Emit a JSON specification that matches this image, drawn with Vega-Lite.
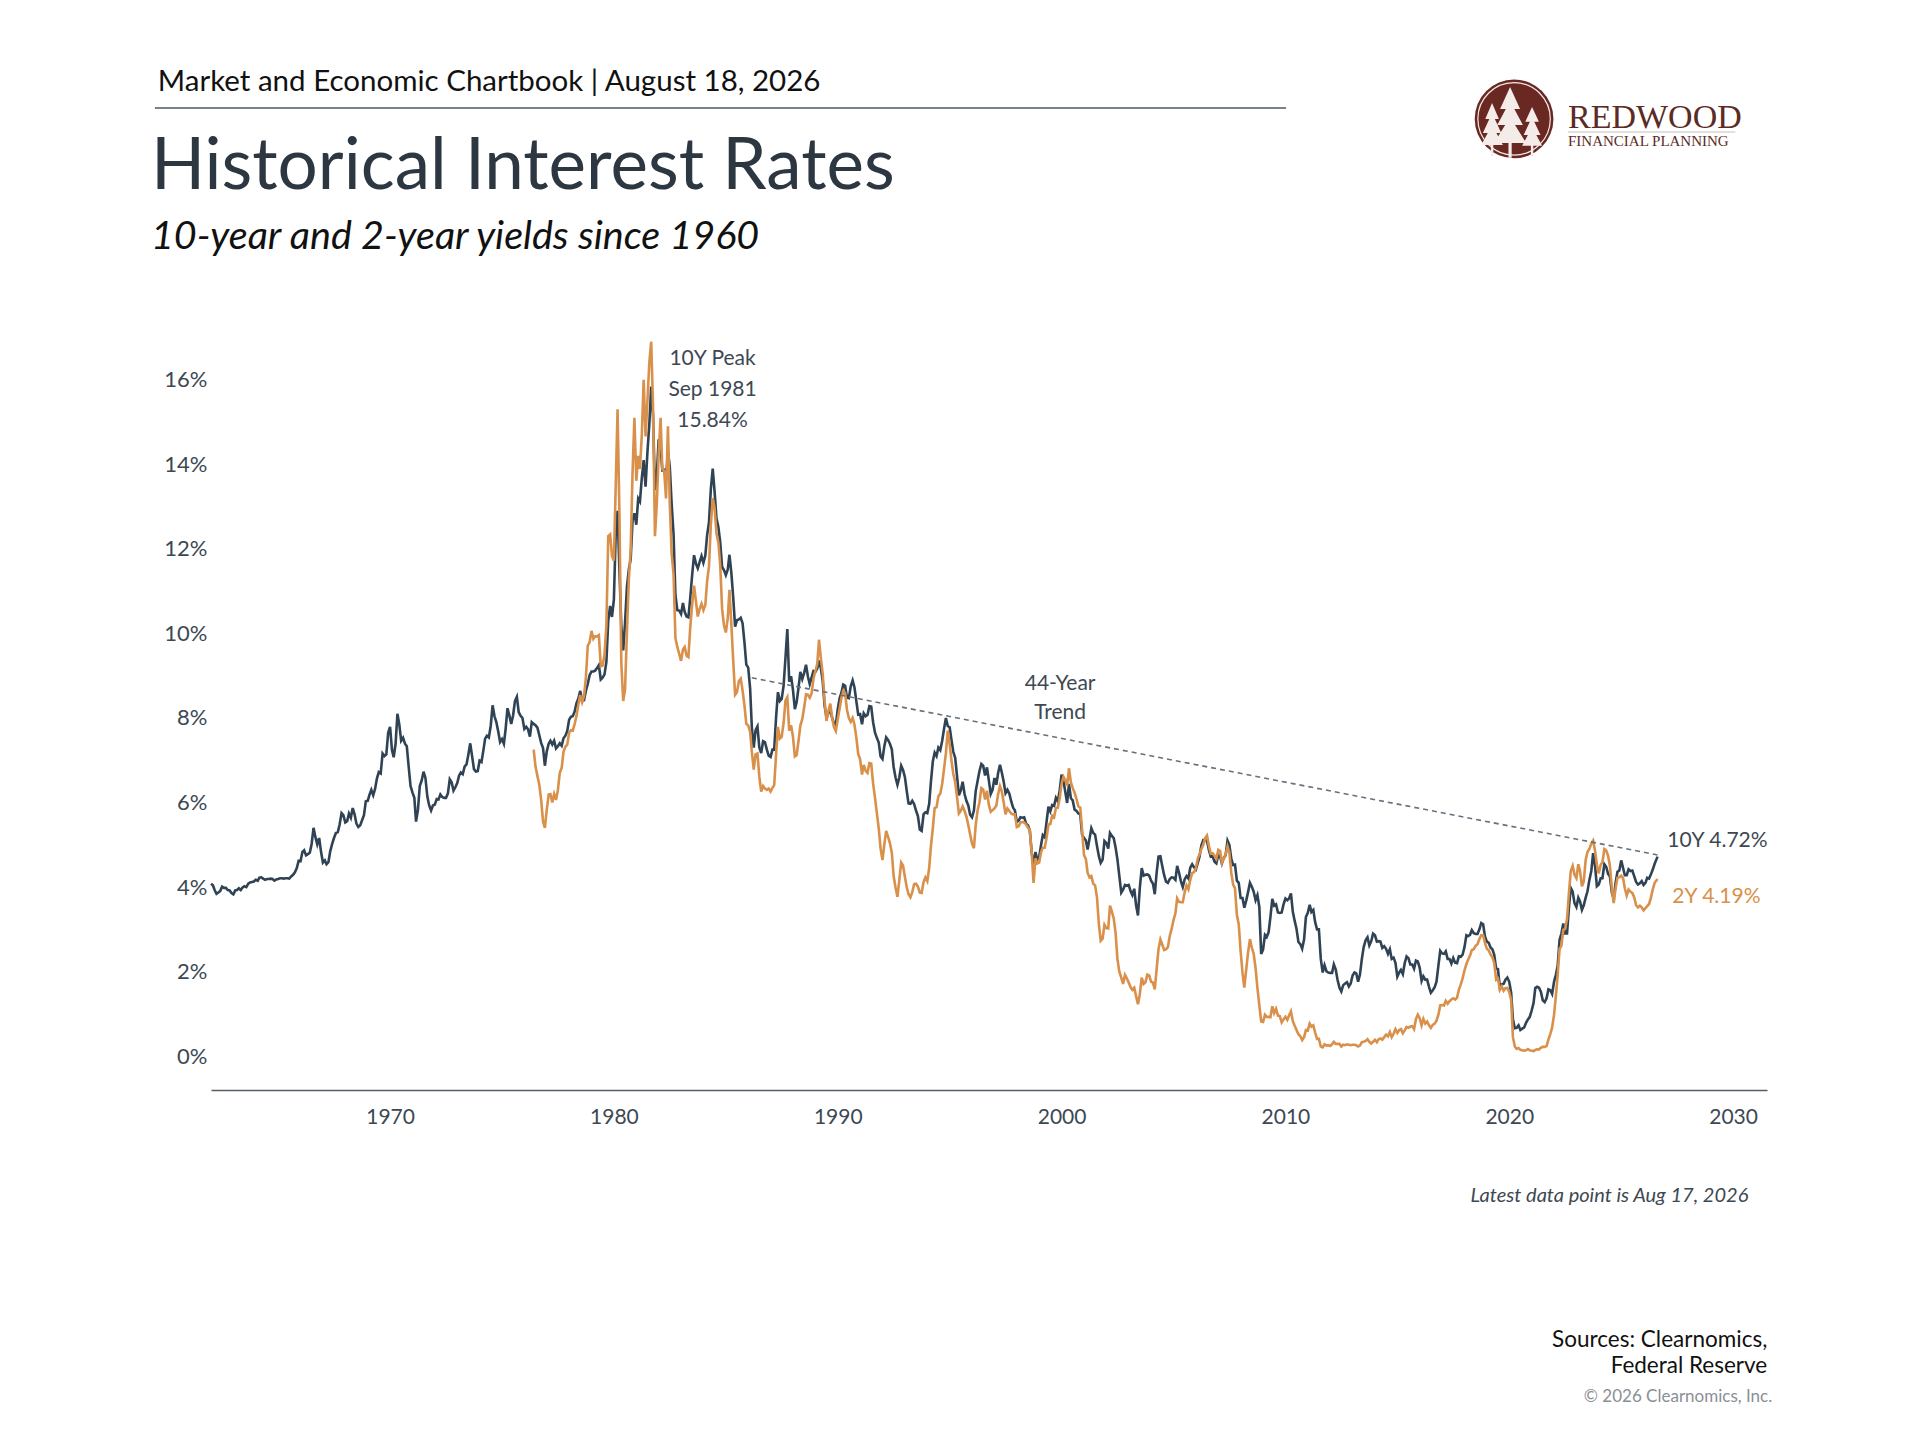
{
  "$schema": "https://vega.github.io/schema/vega-lite/v6.json",
  "width": 1556,
  "height": 761,
  "autosize": {"type": "none"},
  "padding": {"left": 211, "top": 329, "right": 153, "bottom": 350},
  "background": "white",
  "config": {"view": {"stroke": null}, "font": "Lato"},
  "data": {
    "values": [
{"date":"1962-01","y10":4.08},{"date":"1962-02","y10":4.04},{"date":"1962-03","y10":3.93},{"date":"1962-04","y10":3.84},{"date":"1962-05","y10":3.87},{"date":"1962-06","y10":3.91},{"date":"1962-07","y10":4.01},{"date":"1962-08","y10":3.98},{"date":"1962-09","y10":3.98},{"date":"1962-10","y10":3.93},{"date":"1962-11","y10":3.92},{"date":"1962-12","y10":3.86},
{"date":"1963-01","y10":3.83},{"date":"1963-02","y10":3.92},{"date":"1963-03","y10":3.93},{"date":"1963-04","y10":3.97},{"date":"1963-05","y10":3.93},{"date":"1963-06","y10":3.99},{"date":"1963-07","y10":4.02},{"date":"1963-08","y10":4.00},{"date":"1963-09","y10":4.08},{"date":"1963-10","y10":4.11},{"date":"1963-11","y10":4.12},{"date":"1963-12","y10":4.13},
{"date":"1964-01","y10":4.17},{"date":"1964-02","y10":4.15},{"date":"1964-03","y10":4.22},{"date":"1964-04","y10":4.23},{"date":"1964-05","y10":4.20},{"date":"1964-06","y10":4.17},{"date":"1964-07","y10":4.19},{"date":"1964-08","y10":4.19},{"date":"1964-09","y10":4.20},{"date":"1964-10","y10":4.19},{"date":"1964-11","y10":4.15},{"date":"1964-12","y10":4.18},
{"date":"1965-01","y10":4.19},{"date":"1965-02","y10":4.21},{"date":"1965-03","y10":4.21},{"date":"1965-04","y10":4.20},{"date":"1965-05","y10":4.21},{"date":"1965-06","y10":4.21},{"date":"1965-07","y10":4.20},{"date":"1965-08","y10":4.25},{"date":"1965-09","y10":4.29},{"date":"1965-10","y10":4.35},{"date":"1965-11","y10":4.45},{"date":"1965-12","y10":4.62},
{"date":"1966-01","y10":4.61},{"date":"1966-02","y10":4.83},{"date":"1966-03","y10":4.87},{"date":"1966-04","y10":4.75},{"date":"1966-05","y10":4.78},{"date":"1966-06","y10":4.81},{"date":"1966-07","y10":5.02},{"date":"1966-08","y10":5.40},{"date":"1966-09","y10":5.18},{"date":"1966-10","y10":5.01},{"date":"1966-11","y10":5.16},{"date":"1966-12","y10":4.84},
{"date":"1967-01","y10":4.58},{"date":"1967-02","y10":4.63},{"date":"1967-03","y10":4.54},{"date":"1967-04","y10":4.59},{"date":"1967-05","y10":4.85},{"date":"1967-06","y10":5.02},{"date":"1967-07","y10":5.16},{"date":"1967-08","y10":5.28},{"date":"1967-09","y10":5.30},{"date":"1967-10","y10":5.48},{"date":"1967-11","y10":5.75},{"date":"1967-12","y10":5.70},
{"date":"1968-01","y10":5.53},{"date":"1968-02","y10":5.56},{"date":"1968-03","y10":5.74},{"date":"1968-04","y10":5.64},{"date":"1968-05","y10":5.87},{"date":"1968-06","y10":5.72},{"date":"1968-07","y10":5.50},{"date":"1968-08","y10":5.42},{"date":"1968-09","y10":5.46},{"date":"1968-10","y10":5.58},{"date":"1968-11","y10":5.70},{"date":"1968-12","y10":6.03},
{"date":"1969-01","y10":6.04},{"date":"1969-02","y10":6.19},{"date":"1969-03","y10":6.30},{"date":"1969-04","y10":6.17},{"date":"1969-05","y10":6.32},{"date":"1969-06","y10":6.57},{"date":"1969-07","y10":6.72},{"date":"1969-08","y10":6.69},{"date":"1969-09","y10":7.16},{"date":"1969-10","y10":7.10},{"date":"1969-11","y10":7.14},{"date":"1969-12","y10":7.65},
{"date":"1970-01","y10":7.79},{"date":"1970-02","y10":7.24},{"date":"1970-03","y10":7.07},{"date":"1970-04","y10":7.39},{"date":"1970-05","y10":8.10},{"date":"1970-06","y10":7.84},{"date":"1970-07","y10":7.46},{"date":"1970-08","y10":7.53},{"date":"1970-09","y10":7.39},{"date":"1970-10","y10":7.33},{"date":"1970-11","y10":6.84},{"date":"1970-12","y10":6.39},
{"date":"1971-01","y10":6.24},{"date":"1971-02","y10":6.11},{"date":"1971-03","y10":5.55},{"date":"1971-04","y10":5.83},{"date":"1971-05","y10":6.39},{"date":"1971-06","y10":6.52},{"date":"1971-07","y10":6.73},{"date":"1971-08","y10":6.58},{"date":"1971-09","y10":6.14},{"date":"1971-10","y10":5.93},{"date":"1971-11","y10":5.81},{"date":"1971-12","y10":5.93},
{"date":"1972-01","y10":5.95},{"date":"1972-02","y10":6.08},{"date":"1972-03","y10":6.07},{"date":"1972-04","y10":6.19},{"date":"1972-05","y10":6.13},{"date":"1972-06","y10":6.11},{"date":"1972-07","y10":6.11},{"date":"1972-08","y10":6.21},{"date":"1972-09","y10":6.55},{"date":"1972-10","y10":6.48},{"date":"1972-11","y10":6.28},{"date":"1972-12","y10":6.36},
{"date":"1973-01","y10":6.46},{"date":"1973-02","y10":6.64},{"date":"1973-03","y10":6.71},{"date":"1973-04","y10":6.67},{"date":"1973-05","y10":6.85},{"date":"1973-06","y10":6.90},{"date":"1973-07","y10":7.13},{"date":"1973-08","y10":7.40},{"date":"1973-09","y10":7.09},{"date":"1973-10","y10":6.79},{"date":"1973-11","y10":6.73},{"date":"1973-12","y10":6.74},
{"date":"1974-01","y10":6.99},{"date":"1974-02","y10":6.96},{"date":"1974-03","y10":7.21},{"date":"1974-04","y10":7.51},{"date":"1974-05","y10":7.58},{"date":"1974-06","y10":7.54},{"date":"1974-07","y10":7.81},{"date":"1974-08","y10":8.30},{"date":"1974-09","y10":8.04},{"date":"1974-10","y10":7.90},{"date":"1974-11","y10":7.68},{"date":"1974-12","y10":7.43},
{"date":"1975-01","y10":7.50},{"date":"1975-02","y10":7.39},{"date":"1975-03","y10":7.73},{"date":"1975-04","y10":8.23},{"date":"1975-05","y10":8.06},{"date":"1975-06","y10":7.86},{"date":"1975-07","y10":8.06},{"date":"1975-08","y10":8.40},{"date":"1975-09","y10":8.50},{"date":"1975-10","y10":8.14},{"date":"1975-11","y10":8.05},{"date":"1975-12","y10":8.00},
{"date":"1976-01","y10":7.74},{"date":"1976-02","y10":7.79},{"date":"1976-03","y10":7.73},{"date":"1976-04","y10":7.56},{"date":"1976-05","y10":7.90},
{"date":"1976-06","y10":7.86,"y2":7.25},{"date":"1976-07","y10":7.83,"y2":6.85},{"date":"1976-08","y10":7.77,"y2":6.63},{"date":"1976-09","y10":7.59,"y2":6.42},{"date":"1976-10","y10":7.41,"y2":6.07},{"date":"1976-11","y10":7.29,"y2":5.55},{"date":"1976-12","y10":6.87,"y2":5.40},
{"date":"1977-01","y10":7.21,"y2":5.83},{"date":"1977-02","y10":7.39,"y2":6.19},{"date":"1977-03","y10":7.46,"y2":6.20},{"date":"1977-04","y10":7.37,"y2":6.00},{"date":"1977-05","y10":7.46,"y2":6.20},{"date":"1977-06","y10":7.28,"y2":6.06},{"date":"1977-07","y10":7.33,"y2":6.29},{"date":"1977-08","y10":7.40,"y2":6.70},{"date":"1977-09","y10":7.34,"y2":6.82},{"date":"1977-10","y10":7.52,"y2":7.20},{"date":"1977-11","y10":7.58,"y2":7.32},{"date":"1977-12","y10":7.69,"y2":7.37},
{"date":"1978-01","y10":7.96,"y2":7.65},{"date":"1978-02","y10":8.03,"y2":7.71},{"date":"1978-03","y10":8.04,"y2":7.70},{"date":"1978-04","y10":8.15,"y2":7.86},{"date":"1978-05","y10":8.35,"y2":8.05},{"date":"1978-06","y10":8.46,"y2":8.32},{"date":"1978-07","y10":8.64,"y2":8.54},{"date":"1978-08","y10":8.41,"y2":8.37},{"date":"1978-09","y10":8.42,"y2":8.52},{"date":"1978-10","y10":8.64,"y2":8.95},{"date":"1978-11","y10":8.81,"y2":9.71},{"date":"1978-12","y10":9.01,"y2":9.79},
{"date":"1979-01","y10":9.10,"y2":10.06},{"date":"1979-02","y10":9.10,"y2":9.87},{"date":"1979-03","y10":9.12,"y2":9.93},{"date":"1979-04","y10":9.18,"y2":9.93},{"date":"1979-05","y10":9.25,"y2":9.96},{"date":"1979-06","y10":8.91,"y2":9.22},{"date":"1979-07","y10":8.95,"y2":9.24},{"date":"1979-08","y10":9.03,"y2":9.50},{"date":"1979-09","y10":9.33,"y2":10.18},{"date":"1979-10","y10":10.30,"y2":12.30},{"date":"1979-11","y10":10.65,"y2":12.34},{"date":"1979-12","y10":10.39,"y2":11.83},
{"date":"1980-01","y10":10.80,"y2":11.72},{"date":"1980-02","y10":12.41,"y2":13.54},{"date":"1980-03","y10":12.90,"y2":15.30},{"date":"1980-04","y10":11.47,"y2":12.78},{"date":"1980-05","y10":10.18,"y2":9.31},{"date":"1980-06","y10":9.60,"y2":8.40},{"date":"1980-07","y10":10.25,"y2":8.67},{"date":"1980-08","y10":11.10,"y2":10.02},{"date":"1980-09","y10":11.51,"y2":11.28},{"date":"1980-10","y10":11.75,"y2":11.97},{"date":"1980-11","y10":12.68,"y2":13.82},{"date":"1980-12","y10":12.84,"y2":15.10},
{"date":"1981-01","y10":12.57,"y2":13.61},{"date":"1981-02","y10":13.19,"y2":14.20},{"date":"1981-03","y10":13.12,"y2":13.89},{"date":"1981-04","y10":13.68,"y2":14.70},{"date":"1981-05","y10":14.10,"y2":16.00},{"date":"1981-06","y10":13.47,"y2":14.66},{"date":"1981-07","y10":14.28,"y2":15.48},{"date":"1981-08","y10":14.94,"y2":16.40},{"date":"1981-09","y10":15.84,"y2":16.90},{"date":"1981-10","y10":15.15,"y2":15.38},{"date":"1981-11","y10":13.39,"y2":12.30},{"date":"1981-12","y10":13.72,"y2":13.06},
{"date":"1982-01","y10":14.59,"y2":14.24},{"date":"1982-02","y10":14.43,"y2":15.10},{"date":"1982-03","y10":13.86,"y2":13.89},{"date":"1982-04","y10":13.87,"y2":13.84},{"date":"1982-05","y10":13.62,"y2":13.19},{"date":"1982-06","y10":14.30,"y2":14.90},{"date":"1982-07","y10":13.95,"y2":13.08},{"date":"1982-08","y10":13.06,"y2":11.88},{"date":"1982-09","y10":12.34,"y2":11.40},{"date":"1982-10","y10":10.91,"y2":9.89},{"date":"1982-11","y10":10.55,"y2":9.68},{"date":"1982-12","y10":10.54,"y2":9.52},
{"date":"1983-01","y10":10.46,"y2":9.35},{"date":"1983-02","y10":10.72,"y2":9.62},{"date":"1983-03","y10":10.51,"y2":9.68},{"date":"1983-04","y10":10.40,"y2":9.47},{"date":"1983-05","y10":10.38,"y2":9.44},{"date":"1983-06","y10":10.85,"y2":10.16},{"date":"1983-07","y10":11.38,"y2":10.68},{"date":"1983-08","y10":11.85,"y2":11.13},{"date":"1983-09","y10":11.65,"y2":10.76},{"date":"1983-10","y10":11.54,"y2":10.40},{"date":"1983-11","y10":11.69,"y2":10.58},{"date":"1983-12","y10":11.83,"y2":10.70},
{"date":"1984-01","y10":11.67,"y2":10.55},{"date":"1984-02","y10":11.84,"y2":10.67},{"date":"1984-03","y10":12.32,"y2":11.23},{"date":"1984-04","y10":12.63,"y2":11.59},{"date":"1984-05","y10":13.41,"y2":12.57},{"date":"1984-06","y10":13.90,"y2":13.20},{"date":"1984-07","y10":13.36,"y2":12.97},{"date":"1984-08","y10":12.72,"y2":12.37},{"date":"1984-09","y10":12.52,"y2":12.15},{"date":"1984-10","y10":12.16,"y2":11.63},{"date":"1984-11","y10":11.57,"y2":10.58},{"date":"1984-12","y10":11.50,"y2":10.20},
{"date":"1985-01","y10":11.38,"y2":10.02},{"date":"1985-02","y10":11.51,"y2":10.36},{"date":"1985-03","y10":11.86,"y2":11.03},{"date":"1985-04","y10":11.43,"y2":10.20},{"date":"1985-05","y10":10.85,"y2":9.37},{"date":"1985-06","y10":10.16,"y2":8.55},{"date":"1985-07","y10":10.31,"y2":8.61},{"date":"1985-08","y10":10.33,"y2":8.87},{"date":"1985-09","y10":10.37,"y2":8.93},{"date":"1985-10","y10":10.24,"y2":8.65},{"date":"1985-11","y10":9.78,"y2":8.29},{"date":"1985-12","y10":9.26,"y2":7.86},
{"date":"1986-01","y10":9.19,"y2":7.82},{"date":"1986-02","y10":8.70,"y2":7.68},{"date":"1986-03","y10":7.78,"y2":7.20},{"date":"1986-04","y10":7.30,"y2":6.78},{"date":"1986-05","y10":7.71,"y2":7.14},{"date":"1986-06","y10":7.80,"y2":7.16},{"date":"1986-07","y10":7.30,"y2":6.61},{"date":"1986-08","y10":7.17,"y2":6.26},{"date":"1986-09","y10":7.45,"y2":6.39},{"date":"1986-10","y10":7.43,"y2":6.33},{"date":"1986-11","y10":7.25,"y2":6.30},{"date":"1986-12","y10":7.11,"y2":6.33},
{"date":"1987-01","y10":7.08,"y2":6.26},{"date":"1987-02","y10":7.25,"y2":6.35},{"date":"1987-03","y10":7.25,"y2":6.41},{"date":"1987-04","y10":8.02,"y2":7.14},{"date":"1987-05","y10":8.61,"y2":7.79},{"date":"1987-06","y10":8.40,"y2":7.51},{"date":"1987-07","y10":8.45,"y2":7.55},{"date":"1987-08","y10":8.76,"y2":7.88},{"date":"1987-09","y10":9.42,"y2":8.41},{"date":"1987-10","y10":10.10,"y2":8.49},{"date":"1987-11","y10":8.86,"y2":7.70},{"date":"1987-12","y10":8.99,"y2":7.83},
{"date":"1988-01","y10":8.67,"y2":7.56},{"date":"1988-02","y10":8.21,"y2":7.09},{"date":"1988-03","y10":8.37,"y2":7.12},{"date":"1988-04","y10":8.72,"y2":7.46},{"date":"1988-05","y10":9.09,"y2":7.82},{"date":"1988-06","y10":8.92,"y2":7.97},{"date":"1988-07","y10":9.06,"y2":8.24},{"date":"1988-08","y10":9.26,"y2":8.56},{"date":"1988-09","y10":8.98,"y2":8.55},{"date":"1988-10","y10":8.80,"y2":8.48},{"date":"1988-11","y10":8.96,"y2":8.58},{"date":"1988-12","y10":9.11,"y2":8.93},
{"date":"1989-01","y10":9.09,"y2":9.11},{"date":"1989-02","y10":9.17,"y2":9.28},{"date":"1989-03","y10":9.36,"y2":9.85},{"date":"1989-04","y10":9.18,"y2":9.41},{"date":"1989-05","y10":8.86,"y2":9.03},{"date":"1989-06","y10":8.28,"y2":8.40},{"date":"1989-07","y10":8.02,"y2":7.93},{"date":"1989-08","y10":8.11,"y2":8.16},{"date":"1989-09","y10":8.19,"y2":8.34},{"date":"1989-10","y10":8.01,"y2":8.01},{"date":"1989-11","y10":7.87,"y2":7.78},{"date":"1989-12","y10":7.84,"y2":7.69},
{"date":"1990-01","y10":8.21,"y2":7.97},{"date":"1990-02","y10":8.47,"y2":8.23},{"date":"1990-03","y10":8.59,"y2":8.47},{"date":"1990-04","y10":8.79,"y2":8.64},{"date":"1990-05","y10":8.76,"y2":8.59},{"date":"1990-06","y10":8.48,"y2":8.19},{"date":"1990-07","y10":8.47,"y2":8.00},{"date":"1990-08","y10":8.75,"y2":7.91},{"date":"1990-09","y10":8.89,"y2":8.00},{"date":"1990-10","y10":8.72,"y2":7.84},{"date":"1990-11","y10":8.39,"y2":7.53},{"date":"1990-12","y10":8.08,"y2":7.15},
{"date":"1991-01","y10":8.09,"y2":7.02},{"date":"1991-02","y10":7.85,"y2":6.66},{"date":"1991-03","y10":8.11,"y2":6.89},{"date":"1991-04","y10":8.04,"y2":6.75},{"date":"1991-05","y10":8.07,"y2":6.70},{"date":"1991-06","y10":8.28,"y2":6.93},{"date":"1991-07","y10":8.27,"y2":6.92},{"date":"1991-08","y10":7.90,"y2":6.45},{"date":"1991-09","y10":7.65,"y2":6.11},{"date":"1991-10","y10":7.53,"y2":5.75},{"date":"1991-11","y10":7.42,"y2":5.39},{"date":"1991-12","y10":7.09,"y2":4.91},
{"date":"1992-01","y10":7.03,"y2":4.64},{"date":"1992-02","y10":7.34,"y2":5.02},{"date":"1992-03","y10":7.54,"y2":5.33},{"date":"1992-04","y10":7.48,"y2":5.19},{"date":"1992-05","y10":7.39,"y2":5.04},{"date":"1992-06","y10":7.26,"y2":4.82},{"date":"1992-07","y10":6.84,"y2":4.26},{"date":"1992-08","y10":6.59,"y2":3.99},{"date":"1992-09","y10":6.42,"y2":3.77},{"date":"1992-10","y10":6.59,"y2":4.16},{"date":"1992-11","y10":6.87,"y2":4.58},{"date":"1992-12","y10":6.77,"y2":4.51},
{"date":"1993-01","y10":6.60,"y2":4.24},{"date":"1993-02","y10":6.26,"y2":3.99},{"date":"1993-03","y10":5.98,"y2":3.83},{"date":"1993-04","y10":5.97,"y2":3.76},{"date":"1993-05","y10":6.04,"y2":3.88},{"date":"1993-06","y10":5.96,"y2":4.07},{"date":"1993-07","y10":5.81,"y2":4.08},{"date":"1993-08","y10":5.68,"y2":4.01},{"date":"1993-09","y10":5.36,"y2":3.87},{"date":"1993-10","y10":5.33,"y2":3.86},{"date":"1993-11","y10":5.72,"y2":4.12},{"date":"1993-12","y10":5.77,"y2":4.23},
{"date":"1994-01","y10":5.75,"y2":4.14},{"date":"1994-02","y10":5.97,"y2":4.45},{"date":"1994-03","y10":6.48,"y2":4.96},{"date":"1994-04","y10":6.97,"y2":5.39},{"date":"1994-05","y10":7.18,"y2":5.87},{"date":"1994-06","y10":7.10,"y2":5.89},{"date":"1994-07","y10":7.30,"y2":6.15},{"date":"1994-08","y10":7.24,"y2":6.21},{"date":"1994-09","y10":7.46,"y2":6.44},{"date":"1994-10","y10":7.74,"y2":6.79},{"date":"1994-11","y10":8.00,"y2":7.17},{"date":"1994-12","y10":7.81,"y2":7.70},
{"date":"1995-01","y10":7.78,"y2":7.38},{"date":"1995-02","y10":7.47,"y2":6.98},{"date":"1995-03","y10":7.20,"y2":6.68},{"date":"1995-04","y10":7.06,"y2":6.49},{"date":"1995-05","y10":6.63,"y2":6.13},{"date":"1995-06","y10":6.17,"y2":5.74},{"date":"1995-07","y10":6.28,"y2":5.80},{"date":"1995-08","y10":6.49,"y2":5.91},{"date":"1995-09","y10":6.20,"y2":5.80},{"date":"1995-10","y10":6.04,"y2":5.67},{"date":"1995-11","y10":5.93,"y2":5.47},{"date":"1995-12","y10":5.71,"y2":5.25},
{"date":"1996-01","y10":5.65,"y2":5.03},{"date":"1996-02","y10":5.81,"y2":4.92},{"date":"1996-03","y10":6.27,"y2":5.47},{"date":"1996-04","y10":6.51,"y2":5.81},{"date":"1996-05","y10":6.74,"y2":6.00},{"date":"1996-06","y10":6.91,"y2":6.34},{"date":"1996-07","y10":6.87,"y2":6.31},{"date":"1996-08","y10":6.64,"y2":6.07},{"date":"1996-09","y10":6.83,"y2":6.28},{"date":"1996-10","y10":6.53,"y2":5.95},{"date":"1996-11","y10":6.20,"y2":5.78},{"date":"1996-12","y10":6.30,"y2":5.82},
{"date":"1997-01","y10":6.58,"y2":5.86},{"date":"1997-02","y10":6.42,"y2":5.93},{"date":"1997-03","y10":6.69,"y2":6.19},{"date":"1997-04","y10":6.89,"y2":6.39},{"date":"1997-05","y10":6.71,"y2":6.26},{"date":"1997-06","y10":6.49,"y2":6.00},{"date":"1997-07","y10":6.22,"y2":5.72},{"date":"1997-08","y10":6.30,"y2":5.86},{"date":"1997-09","y10":6.21,"y2":5.80},{"date":"1997-10","y10":6.03,"y2":5.74},{"date":"1997-11","y10":5.88,"y2":5.72},{"date":"1997-12","y10":5.81,"y2":5.72},
{"date":"1998-01","y10":5.54,"y2":5.42},{"date":"1998-02","y10":5.57,"y2":5.44},{"date":"1998-03","y10":5.65,"y2":5.53},{"date":"1998-04","y10":5.64,"y2":5.54},{"date":"1998-05","y10":5.65,"y2":5.53},{"date":"1998-06","y10":5.50,"y2":5.48},{"date":"1998-07","y10":5.46,"y2":5.41},{"date":"1998-08","y10":5.34,"y2":5.34},{"date":"1998-09","y10":4.81,"y2":4.81},{"date":"1998-10","y10":4.53,"y2":4.10},{"date":"1998-11","y10":4.83,"y2":4.68},{"date":"1998-12","y10":4.65,"y2":4.56},
{"date":"1999-01","y10":4.72,"y2":4.58},{"date":"1999-02","y10":5.00,"y2":4.83},{"date":"1999-03","y10":5.23,"y2":4.93},{"date":"1999-04","y10":5.18,"y2":4.93},{"date":"1999-05","y10":5.54,"y2":5.16},{"date":"1999-06","y10":5.90,"y2":5.48},{"date":"1999-07","y10":5.79,"y2":5.49},{"date":"1999-08","y10":5.94,"y2":5.69},{"date":"1999-09","y10":5.92,"y2":5.65},{"date":"1999-10","y10":6.11,"y2":5.87},{"date":"1999-11","y10":6.03,"y2":5.88},{"date":"1999-12","y10":6.28,"y2":6.10},
{"date":"2000-01","y10":6.66,"y2":6.44},{"date":"2000-02","y10":6.52,"y2":6.61},{"date":"2000-03","y10":6.26,"y2":6.53},{"date":"2000-04","y10":5.99,"y2":6.40},{"date":"2000-05","y10":6.44,"y2":6.81},{"date":"2000-06","y10":6.10,"y2":6.48},{"date":"2000-07","y10":6.05,"y2":6.34},{"date":"2000-08","y10":5.83,"y2":6.23},{"date":"2000-09","y10":5.80,"y2":6.08},{"date":"2000-10","y10":5.74,"y2":5.91},{"date":"2000-11","y10":5.72,"y2":5.88},{"date":"2000-12","y10":5.24,"y2":5.35},
{"date":"2001-01","y10":5.16,"y2":4.76},{"date":"2001-02","y10":5.10,"y2":4.66},{"date":"2001-03","y10":4.89,"y2":4.34},{"date":"2001-04","y10":5.14,"y2":4.23},{"date":"2001-05","y10":5.39,"y2":4.26},{"date":"2001-06","y10":5.28,"y2":4.08},{"date":"2001-07","y10":5.24,"y2":4.04},{"date":"2001-08","y10":4.97,"y2":3.76},{"date":"2001-09","y10":4.73,"y2":3.12},{"date":"2001-10","y10":4.57,"y2":2.73},{"date":"2001-11","y10":4.65,"y2":2.78},{"date":"2001-12","y10":5.09,"y2":3.11},
{"date":"2002-01","y10":5.04,"y2":3.03},{"date":"2002-02","y10":4.91,"y2":3.02},{"date":"2002-03","y10":5.28,"y2":3.56},{"date":"2002-04","y10":5.21,"y2":3.42},{"date":"2002-05","y10":5.16,"y2":3.26},{"date":"2002-06","y10":4.93,"y2":2.91},{"date":"2002-07","y10":4.65,"y2":2.29},{"date":"2002-08","y10":4.26,"y2":2.00},{"date":"2002-09","y10":3.87,"y2":1.86},{"date":"2002-10","y10":3.94,"y2":1.71},{"date":"2002-11","y10":4.05,"y2":1.92},{"date":"2002-12","y10":4.03,"y2":1.84},
{"date":"2003-01","y10":4.05,"y2":1.74},{"date":"2003-02","y10":3.90,"y2":1.63},{"date":"2003-03","y10":3.81,"y2":1.57},{"date":"2003-04","y10":3.96,"y2":1.62},{"date":"2003-05","y10":3.57,"y2":1.42},{"date":"2003-06","y10":3.33,"y2":1.23},{"date":"2003-07","y10":3.98,"y2":1.47},{"date":"2003-08","y10":4.45,"y2":1.86},{"date":"2003-09","y10":4.27,"y2":1.71},{"date":"2003-10","y10":4.29,"y2":1.75},{"date":"2003-11","y10":4.30,"y2":1.93},{"date":"2003-12","y10":4.27,"y2":1.91},
{"date":"2004-01","y10":4.15,"y2":1.76},{"date":"2004-02","y10":4.08,"y2":1.74},{"date":"2004-03","y10":3.83,"y2":1.58},{"date":"2004-04","y10":4.35,"y2":2.07},{"date":"2004-05","y10":4.72,"y2":2.53},{"date":"2004-06","y10":4.73,"y2":2.76},{"date":"2004-07","y10":4.50,"y2":2.64},{"date":"2004-08","y10":4.28,"y2":2.51},{"date":"2004-09","y10":4.13,"y2":2.53},{"date":"2004-10","y10":4.10,"y2":2.58},{"date":"2004-11","y10":4.19,"y2":2.85},{"date":"2004-12","y10":4.23,"y2":3.01},
{"date":"2005-01","y10":4.22,"y2":3.22},{"date":"2005-02","y10":4.17,"y2":3.38},{"date":"2005-03","y10":4.50,"y2":3.73},{"date":"2005-04","y10":4.34,"y2":3.65},{"date":"2005-05","y10":4.14,"y2":3.64},{"date":"2005-06","y10":4.00,"y2":3.64},{"date":"2005-07","y10":4.18,"y2":3.87},{"date":"2005-08","y10":4.26,"y2":4.04},{"date":"2005-09","y10":4.20,"y2":3.95},{"date":"2005-10","y10":4.46,"y2":4.17},{"date":"2005-11","y10":4.54,"y2":4.33},{"date":"2005-12","y10":4.47,"y2":4.35},
{"date":"2006-01","y10":4.42,"y2":4.45},{"date":"2006-02","y10":4.57,"y2":4.68},{"date":"2006-03","y10":4.72,"y2":4.77},{"date":"2006-04","y10":4.99,"y2":4.90},{"date":"2006-05","y10":5.11,"y2":5.00},{"date":"2006-06","y10":5.11,"y2":5.16},{"date":"2006-07","y10":5.09,"y2":5.22},{"date":"2006-08","y10":4.88,"y2":4.97},{"date":"2006-09","y10":4.72,"y2":4.79},{"date":"2006-10","y10":4.73,"y2":4.80},{"date":"2006-11","y10":4.60,"y2":4.74},{"date":"2006-12","y10":4.56,"y2":4.67},
{"date":"2007-01","y10":4.76,"y2":4.88},{"date":"2007-02","y10":4.72,"y2":4.85},{"date":"2007-03","y10":4.56,"y2":4.57},{"date":"2007-04","y10":4.69,"y2":4.67},{"date":"2007-05","y10":4.75,"y2":4.77},{"date":"2007-06","y10":5.10,"y2":4.96},{"date":"2007-07","y10":5.00,"y2":4.82},{"date":"2007-08","y10":4.67,"y2":4.34},{"date":"2007-09","y10":4.52,"y2":4.06},{"date":"2007-10","y10":4.53,"y2":3.97},{"date":"2007-11","y10":4.15,"y2":3.34},{"date":"2007-12","y10":4.10,"y2":3.12},
{"date":"2008-01","y10":3.74,"y2":2.48},{"date":"2008-02","y10":3.74,"y2":1.97},{"date":"2008-03","y10":3.51,"y2":1.62},{"date":"2008-04","y10":3.68,"y2":2.05},{"date":"2008-05","y10":3.88,"y2":2.45},{"date":"2008-06","y10":4.10,"y2":2.77},{"date":"2008-07","y10":4.01,"y2":2.57},{"date":"2008-08","y10":3.89,"y2":2.42},{"date":"2008-09","y10":3.69,"y2":2.08},{"date":"2008-10","y10":3.81,"y2":1.61},{"date":"2008-11","y10":3.53,"y2":1.21},{"date":"2008-12","y10":2.42,"y2":0.82},
{"date":"2009-01","y10":2.52,"y2":0.81},{"date":"2009-02","y10":2.87,"y2":0.98},{"date":"2009-03","y10":2.82,"y2":0.93},{"date":"2009-04","y10":2.93,"y2":0.93},{"date":"2009-05","y10":3.29,"y2":0.92},{"date":"2009-06","y10":3.72,"y2":1.18},{"date":"2009-07","y10":3.56,"y2":1.02},{"date":"2009-08","y10":3.59,"y2":1.12},{"date":"2009-09","y10":3.40,"y2":0.96},{"date":"2009-10","y10":3.39,"y2":0.95},{"date":"2009-11","y10":3.40,"y2":0.80},{"date":"2009-12","y10":3.59,"y2":0.87},
{"date":"2010-01","y10":3.73,"y2":0.93},{"date":"2010-02","y10":3.69,"y2":0.86},{"date":"2010-03","y10":3.73,"y2":0.96},{"date":"2010-04","y10":3.85,"y2":1.06},{"date":"2010-05","y10":3.42,"y2":0.83},{"date":"2010-06","y10":3.20,"y2":0.72},{"date":"2010-07","y10":3.01,"y2":0.62},{"date":"2010-08","y10":2.70,"y2":0.52},{"date":"2010-09","y10":2.65,"y2":0.47},{"date":"2010-10","y10":2.54,"y2":0.38},{"date":"2010-11","y10":2.76,"y2":0.45},{"date":"2010-12","y10":3.29,"y2":0.62},
{"date":"2011-01","y10":3.39,"y2":0.61},{"date":"2011-02","y10":3.58,"y2":0.77},{"date":"2011-03","y10":3.41,"y2":0.70},{"date":"2011-04","y10":3.46,"y2":0.73},{"date":"2011-05","y10":3.17,"y2":0.56},{"date":"2011-06","y10":3.00,"y2":0.41},{"date":"2011-07","y10":3.00,"y2":0.41},{"date":"2011-08","y10":2.30,"y2":0.23},{"date":"2011-09","y10":1.98,"y2":0.21},{"date":"2011-10","y10":2.15,"y2":0.28},{"date":"2011-11","y10":2.01,"y2":0.25},{"date":"2011-12","y10":1.98,"y2":0.26},
{"date":"2012-01","y10":1.97,"y2":0.24},{"date":"2012-02","y10":1.97,"y2":0.28},{"date":"2012-03","y10":2.17,"y2":0.34},{"date":"2012-04","y10":2.05,"y2":0.29},{"date":"2012-05","y10":1.80,"y2":0.29},{"date":"2012-06","y10":1.62,"y2":0.29},{"date":"2012-07","y10":1.53,"y2":0.23},{"date":"2012-08","y10":1.68,"y2":0.27},{"date":"2012-09","y10":1.72,"y2":0.26},{"date":"2012-10","y10":1.75,"y2":0.28},{"date":"2012-11","y10":1.65,"y2":0.27},{"date":"2012-12","y10":1.72,"y2":0.26},
{"date":"2013-01","y10":1.91,"y2":0.27},{"date":"2013-02","y10":1.98,"y2":0.27},{"date":"2013-03","y10":1.96,"y2":0.26},{"date":"2013-04","y10":1.76,"y2":0.23},{"date":"2013-05","y10":1.93,"y2":0.25},{"date":"2013-06","y10":2.30,"y2":0.33},{"date":"2013-07","y10":2.58,"y2":0.34},{"date":"2013-08","y10":2.74,"y2":0.36},{"date":"2013-09","y10":2.81,"y2":0.40},{"date":"2013-10","y10":2.62,"y2":0.34},{"date":"2013-11","y10":2.72,"y2":0.30},{"date":"2013-12","y10":2.90,"y2":0.34},
{"date":"2014-01","y10":2.86,"y2":0.39},{"date":"2014-02","y10":2.71,"y2":0.33},{"date":"2014-03","y10":2.72,"y2":0.40},{"date":"2014-04","y10":2.71,"y2":0.42},{"date":"2014-05","y10":2.56,"y2":0.39},{"date":"2014-06","y10":2.60,"y2":0.45},{"date":"2014-07","y10":2.54,"y2":0.51},{"date":"2014-08","y10":2.42,"y2":0.47},{"date":"2014-09","y10":2.53,"y2":0.57},{"date":"2014-10","y10":2.30,"y2":0.45},{"date":"2014-11","y10":2.33,"y2":0.53},{"date":"2014-12","y10":2.21,"y2":0.64},
{"date":"2015-01","y10":1.88,"y2":0.55},{"date":"2015-02","y10":1.98,"y2":0.62},{"date":"2015-03","y10":2.04,"y2":0.64},{"date":"2015-04","y10":1.94,"y2":0.54},{"date":"2015-05","y10":2.20,"y2":0.61},{"date":"2015-06","y10":2.36,"y2":0.69},{"date":"2015-07","y10":2.32,"y2":0.67},{"date":"2015-08","y10":2.17,"y2":0.70},{"date":"2015-09","y10":2.17,"y2":0.71},{"date":"2015-10","y10":2.07,"y2":0.64},{"date":"2015-11","y10":2.26,"y2":0.88},{"date":"2015-12","y10":2.24,"y2":0.98},
{"date":"2016-01","y10":2.09,"y2":0.90},{"date":"2016-02","y10":1.78,"y2":0.73},{"date":"2016-03","y10":1.89,"y2":0.88},{"date":"2016-04","y10":1.81,"y2":0.77},{"date":"2016-05","y10":1.81,"y2":0.82},{"date":"2016-06","y10":1.64,"y2":0.73},{"date":"2016-07","y10":1.50,"y2":0.67},{"date":"2016-08","y10":1.56,"y2":0.74},{"date":"2016-09","y10":1.63,"y2":0.77},{"date":"2016-10","y10":1.76,"y2":0.84},{"date":"2016-11","y10":2.14,"y2":0.98},{"date":"2016-12","y10":2.49,"y2":1.20},
{"date":"2017-01","y10":2.43,"y2":1.21},{"date":"2017-02","y10":2.42,"y2":1.20},{"date":"2017-03","y10":2.48,"y2":1.31},{"date":"2017-04","y10":2.30,"y2":1.24},{"date":"2017-05","y10":2.30,"y2":1.30},{"date":"2017-06","y10":2.19,"y2":1.34},{"date":"2017-07","y10":2.32,"y2":1.37},{"date":"2017-08","y10":2.21,"y2":1.34},{"date":"2017-09","y10":2.20,"y2":1.38},{"date":"2017-10","y10":2.36,"y2":1.57},{"date":"2017-11","y10":2.35,"y2":1.70},{"date":"2017-12","y10":2.40,"y2":1.84},
{"date":"2018-01","y10":2.58,"y2":2.03},{"date":"2018-02","y10":2.86,"y2":2.18},{"date":"2018-03","y10":2.84,"y2":2.28},{"date":"2018-04","y10":2.87,"y2":2.38},{"date":"2018-05","y10":2.98,"y2":2.51},{"date":"2018-06","y10":2.91,"y2":2.53},{"date":"2018-07","y10":2.89,"y2":2.61},{"date":"2018-08","y10":2.89,"y2":2.65},{"date":"2018-09","y10":3.00,"y2":2.77},{"date":"2018-10","y10":3.15,"y2":2.86},{"date":"2018-11","y10":3.12,"y2":2.86},{"date":"2018-12","y10":2.83,"y2":2.68},
{"date":"2019-01","y10":2.71,"y2":2.54},{"date":"2019-02","y10":2.68,"y2":2.50},{"date":"2019-03","y10":2.57,"y2":2.41},{"date":"2019-04","y10":2.53,"y2":2.34},{"date":"2019-05","y10":2.40,"y2":2.21},{"date":"2019-06","y10":2.07,"y2":1.81},{"date":"2019-07","y10":2.06,"y2":1.84},{"date":"2019-08","y10":1.63,"y2":1.57},{"date":"2019-09","y10":1.70,"y2":1.65},{"date":"2019-10","y10":1.71,"y2":1.55},{"date":"2019-11","y10":1.81,"y2":1.61},{"date":"2019-12","y10":1.86,"y2":1.61},
{"date":"2020-01","y10":1.76,"y2":1.52},{"date":"2020-02","y10":1.50,"y2":1.33},{"date":"2020-03","y10":0.87,"y2":0.45},{"date":"2020-04","y10":0.66,"y2":0.23},{"date":"2020-05","y10":0.67,"y2":0.17},{"date":"2020-06","y10":0.73,"y2":0.19},{"date":"2020-07","y10":0.62,"y2":0.15},{"date":"2020-08","y10":0.65,"y2":0.14},{"date":"2020-09","y10":0.68,"y2":0.13},{"date":"2020-10","y10":0.79,"y2":0.14},{"date":"2020-11","y10":0.87,"y2":0.17},{"date":"2020-12","y10":0.93,"y2":0.14},
{"date":"2021-01","y10":1.08,"y2":0.13},{"date":"2021-02","y10":1.26,"y2":0.12},{"date":"2021-03","y10":1.61,"y2":0.15},{"date":"2021-04","y10":1.64,"y2":0.16},{"date":"2021-05","y10":1.62,"y2":0.16},{"date":"2021-06","y10":1.52,"y2":0.20},{"date":"2021-07","y10":1.32,"y2":0.22},{"date":"2021-08","y10":1.28,"y2":0.22},{"date":"2021-09","y10":1.37,"y2":0.24},{"date":"2021-10","y10":1.58,"y2":0.39},{"date":"2021-11","y10":1.56,"y2":0.52},{"date":"2021-12","y10":1.47,"y2":0.68},
{"date":"2022-01","y10":1.76,"y2":0.98},{"date":"2022-02","y10":1.93,"y2":1.44},{"date":"2022-03","y10":2.13,"y2":1.91},{"date":"2022-04","y10":2.75,"y2":2.54},{"date":"2022-05","y10":2.90,"y2":2.61},{"date":"2022-06","y10":3.14,"y2":2.99},{"date":"2022-07","y10":2.90,"y2":3.01},{"date":"2022-08","y10":2.90,"y2":3.25},{"date":"2022-09","y10":3.52,"y2":3.86},{"date":"2022-10","y10":3.98,"y2":4.38},{"date":"2022-11","y10":3.89,"y2":4.50},{"date":"2022-12","y10":3.62,"y2":4.29},
{"date":"2023-01","y10":3.53,"y2":4.21},{"date":"2023-02","y10":3.75,"y2":4.54},{"date":"2023-03","y10":3.66,"y2":4.38},{"date":"2023-04","y10":3.46,"y2":4.02},{"date":"2023-05","y10":3.57,"y2":4.13},{"date":"2023-06","y10":3.75,"y2":4.64},{"date":"2023-07","y10":3.90,"y2":4.83},{"date":"2023-08","y10":4.17,"y2":4.90},{"date":"2023-09","y10":4.38,"y2":5.03},{"date":"2023-10","y10":4.80,"y2":5.10},{"date":"2023-11","y10":4.50,"y2":4.86},{"date":"2023-12","y10":4.02,"y2":4.53},
{"date":"2024-01","y10":4.06,"y2":4.32},{"date":"2024-02","y10":4.21,"y2":4.53},{"date":"2024-03","y10":4.21,"y2":4.59},{"date":"2024-04","y10":4.54,"y2":4.90},{"date":"2024-05","y10":4.48,"y2":4.87},{"date":"2024-06","y10":4.31,"y2":4.74},{"date":"2024-07","y10":4.25,"y2":4.50},{"date":"2024-08","y10":3.87,"y2":3.97},{"date":"2024-09","y10":3.72,"y2":3.62},{"date":"2024-10","y10":4.10,"y2":3.97},{"date":"2024-11","y10":4.36,"y2":4.22},{"date":"2024-12","y10":4.39,"y2":4.23},
{"date":"2025-01","y10":4.63,"y2":4.27},{"date":"2025-02","y10":4.45,"y2":4.21},{"date":"2025-03","y10":4.28,"y2":3.97},{"date":"2025-04","y10":4.28,"y2":3.80},{"date":"2025-05","y10":4.42,"y2":3.94},{"date":"2025-06","y10":4.38,"y2":3.89},{"date":"2025-07","y10":4.39,"y2":3.86},{"date":"2025-08","y10":4.26,"y2":3.76},{"date":"2025-09","y10":4.12,"y2":3.57},{"date":"2025-10","y10":4.06,"y2":3.52},{"date":"2025-11","y10":4.09,"y2":3.56},{"date":"2025-12","y10":4.14,"y2":3.52},
{"date":"2026-01","y10":4.05,"y2":3.45},{"date":"2026-02","y10":4.10,"y2":3.50},{"date":"2026-03","y10":4.22,"y2":3.55},{"date":"2026-04","y10":4.20,"y2":3.60},{"date":"2026-05","y10":4.30,"y2":3.75},{"date":"2026-06","y10":4.42,"y2":3.95},{"date":"2026-07","y10":4.55,"y2":4.10},{"date":"2026-08-17","y10":4.72,"y2":4.19}
    ]
  },
  "layer": [
    {
      "mark": {"type": "line", "color": "#2f4354", "strokeWidth": 2.6},
      "encoding": {
        "x": {
          "field": "date",
          "type": "temporal",
          "title": null,
          "scale": {"domain": [{"year": 1962, "month": 1, "date": 1}, {"year": 2031, "month": 7, "date": 8}]},
          "axis": {
            "format": "%Y",
            "tickCount": {"interval": "year", "step": 10},
            "ticks": false,
            "grid": false,
            "domainColor": "#555d66",
            "domainWidth": 1.5,
            "labelFontSize": 21,
            "labelColor": "#3d4852",
            "labelPadding": 16
          }
        },
        "y": {
          "field": "y10",
          "type": "quantitative",
          "title": null,
          "scale": {"domain": [-0.8, 17.2], "nice": false, "zero": false},
          "axis": {
            "values": [0, 2, 4, 6, 8, 10, 12, 14, 16],
            "labelExpr": "datum.value + '%'",
            "ticks": false,
            "domain": false,
            "grid": false,
            "labelFontSize": 22,
            "labelColor": "#3d4852",
            "labelPadding": 4
          }
        }
      }
    },
    {
      "mark": {"type": "line", "color": "#d8904a", "strokeWidth": 2.6},
      "encoding": {
        "x": {"field": "date", "type": "temporal", "title": null},
        "y": {"field": "y2", "type": "quantitative", "title": null}
      }
    },
    {
      "data": {"values": [{"date": "1986-03-01", "trend": 8.95}, {"date": "2026-08-17", "trend": 4.76}]},
      "mark": {"type": "line", "color": "#66717c", "strokeWidth": 1.6, "strokeDash": [5, 4]},
      "encoding": {
        "x": {"field": "date", "type": "temporal", "title": null},
        "y": {"field": "trend", "type": "quantitative", "title": null}
      }
    },
    {
      "data": {"values": [{}]},
      "mark": {"type": "text", "text": ["10Y Peak", "Sep 1981", "15.84%"], "lineHeight": 31, "align": "center", "baseline": "alphabetic", "fontSize": 21, "color": "#3d4852"},
      "encoding": {
        "x": {"datum": {"year": 1984, "month": 5, "date": 29}, "type": "temporal"},
        "y": {"datum": 16.35, "type": "quantitative"}
      }
    },
    {
      "data": {"values": [{}]},
      "mark": {"type": "text", "text": ["44-Year", "Trend"], "lineHeight": 29, "align": "center", "baseline": "alphabetic", "fontSize": 21, "color": "#3d4852"},
      "encoding": {
        "x": {"datum": {"year": 1999, "month": 12, "date": 8}, "type": "temporal"},
        "y": {"datum": 8.66, "type": "quantitative"}
      }
    },
    {
      "data": {"values": [{}]},
      "mark": {"type": "text", "text": "10Y 4.72%", "align": "left", "baseline": "alphabetic", "fontSize": 21, "color": "#3d4852"},
      "encoding": {
        "x": {"datum": {"year": 2027, "month": 1, "date": 22}, "type": "temporal"},
        "y": {"datum": 4.95, "type": "quantitative"}
      }
    },
    {
      "data": {"values": [{}]},
      "mark": {"type": "text", "text": "2Y 4.19%", "align": "left", "baseline": "alphabetic", "fontSize": 21, "color": "#d8904a"},
      "encoding": {
        "x": {"datum": {"year": 2027, "month": 4, "date": 15}, "type": "temporal"},
        "y": {"datum": 3.62, "type": "quantitative"}
      }
    },
    {
      "data": {"values": [{}]},
      "mark": {"type": "text", "text": "Market and Economic Chartbook | August 18, 2026", "align": "left", "baseline": "alphabetic", "fontSize": 29.5, "color": "#111111"},
      "encoding": {
        "x": {"datum": {"year": 1959, "month": 8, "date": 18}, "type": "temporal"},
        "y": {"datum": 22.83, "type": "quantitative"}
      }
    },
    {
      "data": {"values": [{}]},
      "mark": {"type": "rule", "color": "#4b5a69", "strokeWidth": 1.5},
      "encoding": {
        "x": {"datum": {"year": 1959, "month": 7, "date": 1}, "type": "temporal"},
        "x2": {"datum": {"year": 2010, "month": 1, "date": 12}},
        "y": {"datum": 22.43, "type": "quantitative"}
      }
    },
    {
      "data": {"values": [{}]},
      "mark": {"type": "text", "text": "Historical Interest Rates", "align": "left", "baseline": "alphabetic", "fontSize": 71, "color": "#2c3742"},
      "encoding": {
        "x": {"datum": {"year": 1959, "month": 4, "date": 26}, "type": "temporal"},
        "y": {"datum": 20.51, "type": "quantitative"}
      }
    },
    {
      "data": {"values": [{}]},
      "mark": {"type": "text", "text": "10-year and 2-year yields since 1960", "align": "left", "baseline": "alphabetic", "fontSize": 39.5, "fontStyle": "italic", "color": "#111111"},
      "encoding": {
        "x": {"datum": {"year": 1959, "month": 4, "date": 26}, "type": "temporal"},
        "y": {"datum": 19.09, "type": "quantitative"}
      }
    },
    {
      "data": {"values": [{}]},
      "mark": {"type": "point", "shape": "circle", "filled": true, "size": 6200, "color": "#6a2823", "opacity": 1},
      "encoding": {
        "x": {"datum": {"year": 2020, "month": 3, "date": 20}, "type": "temporal"},
        "y": {"datum": 22.17, "type": "quantitative"}
      }
    },
    {
      "data": {"values": [{}]},
      "mark": {"type": "point", "shape": "circle", "filled": false, "size": 5250, "color": "#f4ece8", "strokeWidth": 1.2, "opacity": 1},
      "encoding": {
        "x": {"datum": {"year": 2020, "month": 3, "date": 20}, "type": "temporal"},
        "y": {"datum": 22.17, "type": "quantitative"}
      }
    },
    {
      "data": {"values": [{}]},
      "mark": {
        "type": "point",
        "shape": "M-0.1,-0.85L-0.35,-0.3L0.15,-0.3ZM-0.1,-0.5L-0.42,0.1L0.22,0.1ZM-0.1,-0.1L-0.5,0.55L0.3,0.55ZM-0.14,0.55L-0.06,0.55L-0.06,0.92L-0.14,0.92ZM-0.55,-0.45L-0.72,-0.05L-0.38,-0.05ZM-0.55,-0.2L-0.78,0.3L-0.32,0.3ZM-0.55,0.1L-0.82,0.6L-0.28,0.6ZM-0.58,0.6L-0.52,0.6L-0.52,0.88L-0.58,0.88ZM0.45,-0.35L0.28,0.02L0.62,0.02ZM0.45,-0.1L0.24,0.35L0.66,0.35ZM0.45,0.15L0.2,0.62L0.7,0.62ZM0.42,0.62L0.48,0.62L0.48,0.88L0.42,0.88Z",
        "filled": true,
        "size": 6400,
        "color": "#f4ece8",
        "opacity": 1
      },
      "encoding": {
        "x": {"datum": {"year": 2020, "month": 3, "date": 20}, "type": "temporal"},
        "y": {"datum": 22.12, "type": "quantitative"}
      }
    },
    {
      "data": {"values": [{}]},
      "mark": {"type": "text", "text": "REDWOOD", "align": "left", "baseline": "alphabetic", "font": "Liberation Serif", "fontSize": 34, "color": "#5b2b24"},
      "encoding": {
        "x": {"datum": {"year": 2022, "month": 8, "date": 17}, "type": "temporal"},
        "y": {"datum": 21.96, "type": "quantitative"}
      }
    },
    {
      "data": {"values": [{}]},
      "mark": {"type": "rule", "color": "#c9bfbb", "strokeWidth": 1},
      "encoding": {
        "x": {"datum": {"year": 2022, "month": 8, "date": 17}, "type": "temporal"},
        "x2": {"datum": {"year": 2030, "month": 2, "date": 6}},
        "y": {"datum": 21.86, "type": "quantitative"}
      }
    },
    {
      "data": {"values": [{}]},
      "mark": {"type": "text", "text": "FINANCIAL PLANNING", "align": "left", "baseline": "alphabetic", "font": "Liberation Serif", "fontSize": 15, "color": "#5b2b24"},
      "encoding": {
        "x": {"datum": {"year": 2022, "month": 8, "date": 17}, "type": "temporal"},
        "y": {"datum": 21.53, "type": "quantitative"}
      }
    },
    {
      "data": {"values": [{}]},
      "mark": {"type": "text", "text": "Latest data point is Aug 17, 2026", "align": "right", "baseline": "alphabetic", "fontSize": 20, "fontStyle": "italic", "color": "#3d4852"},
      "encoding": {
        "x": {"datum": {"year": 2030, "month": 9, "date": 6}, "type": "temporal"},
        "y": {"datum": -3.45, "type": "quantitative"}
      }
    },
    {
      "data": {"values": [{}]},
      "mark": {"type": "text", "text": ["Sources: Clearnomics,", "Federal Reserve"], "lineHeight": 26, "align": "right", "baseline": "alphabetic", "fontSize": 22.5, "color": "#111111"},
      "encoding": {
        "x": {"datum": {"year": 2031, "month": 7, "date": 12}, "type": "temporal"},
        "y": {"datum": -6.88, "type": "quantitative"}
      }
    },
    {
      "data": {"values": [{}]},
      "mark": {"type": "text", "text": "© 2026 Clearnomics, Inc.", "align": "right", "baseline": "alphabetic", "fontSize": 17, "color": "#8a8f94"},
      "encoding": {
        "x": {"datum": {"year": 2031, "month": 10, "date": 1}, "type": "temporal"},
        "y": {"datum": -8.17, "type": "quantitative"}
      }
    }
  ]
}
